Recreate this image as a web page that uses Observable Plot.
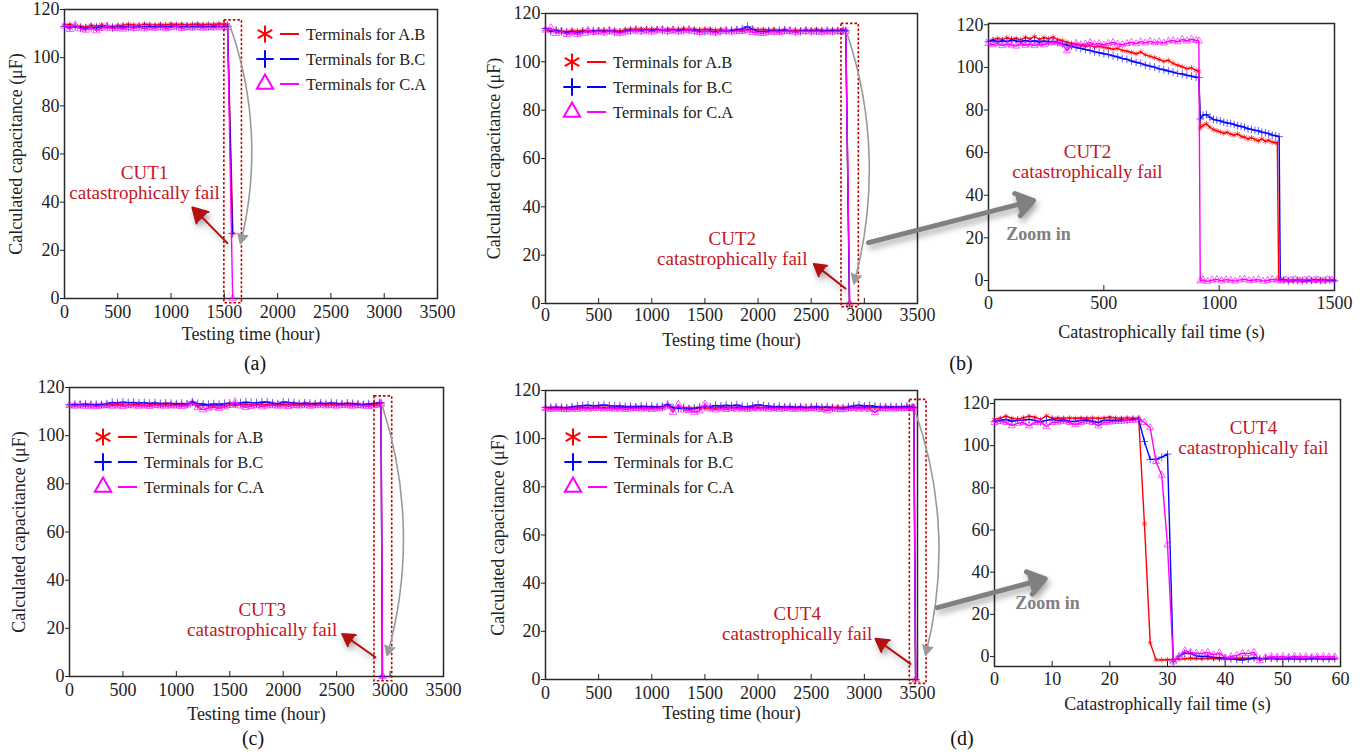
<!DOCTYPE html>
<html>
<head>
<meta charset="utf-8">
<script src="https://cdn.jsdelivr.net/npm/d3@7"></script>
<script src="https://cdn.jsdelivr.net/npm/@observablehq/plot@0.6"></script>
<style>
  body { margin: 0; background: #fff; }
  #fig { position: relative; width: 1366px; height: 756px; overflow: hidden; background: #fff;
         font-family: "Liberation Serif", "Times New Roman", serif; color: #222; }
  .panel { position: absolute; }
  .panel svg { overflow: visible; }
  .tag { position: absolute; font-size: 20px; transform: translate(-50%, -50%); color: #111; }
</style>
</head>
<body>
<div id="fig"></div>
<script>
// ---------------- DATA ----------------
const seriesKeys = ["AB", "BC", "CA"];
const legendLabels = ["Terminals for A.B", "Terminals for B.C", "Terminals for C.A"];
const panelTags = ["(a)", "(b)", "(c)", "(d)"];

// sampling grid of the long-term tests (hours)
const hoursGrid = [0,50,100,150,200,250,300,350,400,450,
  500,550,600,650,700,750,800,850,900,950,
  1000,1050,1100,1150,1200,1250,1300,1350,1400,1450,
  1500,1550,1600,1650,1700,1750,1800,1850,1900,1950,
  2000,2050,2100,2150,2200,2250,2300,2350,2400,2450,
  2500,2550,2600,2650,2700,2750,2800,2850,2900,2950,
  3000,3050,3100,3150,3200,3250,3300,3350,3400,3450];

// (a) CUT1
const aAB = [113.5,113.8,113.2,113.0,112.8,113.4,113.1,113.6,113.0,112.9,
  113.3,113.5,113.8,113.6,113.4,113.9,113.7,113.5,113.8,113.6,
  114.0,113.7,113.9,113.6,113.8,114.0,113.7,113.9,113.8,114.1,113.9];
const aBC = [113.0,112.6,112.8,112.4,112.3,112.6,112.4,112.8,112.7,112.5,
  112.6,112.9,112.7,112.6,112.8,112.9,113.0,112.8,113.0,112.9,
  113.1,113.0,112.8,113.0,112.9,113.1,113.0,112.9,113.1,113.0,112.9];
const aCA = [113.2,111.8,113.5,112.0,111.5,112.6,111.2,112.3,113.0,112.1,
  112.4,111.9,112.6,112.2,112.8,112.0,112.5,112.3,112.7,112.1,
  112.5,112.9,112.2,112.6,112.4,112.7,112.3,112.6,112.4,112.8,112.5];
const aTailHoursAB = [1530, 1580], aTailAB = [113.8, 27.0];
const aTailHoursBC = [1530, 1575], aTailBC = [113.0, 27.0];
const aTailHoursCA = [1530, 1578], aTailCA = [112.6, 0.0];

// (b) CUT2 long-term
const bAB = [113.5,112.8,113.2,112.6,112.5,112.9,112.7,113.0,112.8,112.6,
  112.9,113.1,112.8,113.0,112.7,113.3,113.5,113.4,113.6,113.3,
  113.5,113.4,113.2,113.5,113.3,113.4,113.6,113.3,113.5,113.2,
  113.4,113.5,113.1,113.3,113.0,112.9,113.2,113.0,113.3,113.5,
  113.2,113.4,113.1,113.3,113.0,113.2,112.8,113.1,112.9,113.2,
  113.0,113.3,113.1,112.9,113.2,113.0,113.1];
const bBC = [113.8,112.5,113.0,112.6,112.2,112.4,112.1,112.6,112.4,112.8,
  112.7,112.5,112.9,112.4,112.3,112.6,112.9,113.0,112.8,113.1,
  112.9,113.2,113.0,112.8,113.1,112.9,113.2,113.0,112.9,112.6,
  112.5,112.7,112.4,112.6,112.8,113.0,113.2,113.6,114.6,113.4,
  112.6,112.5,112.8,112.6,112.9,113.1,112.8,112.4,112.6,112.9,
  112.7,112.8,112.6,112.9,112.7,112.8,112.9];
const bCA = [113.2,114.0,111.8,112.6,111.4,112.2,111.3,111.9,113.0,112.2,
  112.6,112.1,112.8,112.3,111.9,112.4,112.7,113.2,112.5,113.0,
  112.4,112.9,113.3,112.6,113.1,112.5,112.9,113.2,112.6,112.2,
  112.7,112.4,112.1,112.6,112.9,112.4,112.8,112.6,113.0,112.2,
  112.0,111.8,112.3,112.5,112.2,112.6,112.8,112.3,112.5,112.7,
  112.4,112.6,112.3,112.5,112.4,112.6,112.5];
const bTailHoursAB = [2825, 2860], bTailAB = [113.0, 0.0];
const bTailHoursBC = [2825, 2860], bTailBC = [112.9, 0.0];
const bTailHoursCA = [2825, 2862], bTailCA = [112.6, 0.0];

// (c) CUT3
const cAB = [112.5,112.8,112.6,112.9,112.7,112.5,112.8,112.6,112.9,113.0,
  112.8,112.7,113.0,112.9,112.6,112.8,113.0,112.7,112.9,112.8,
  113.0,112.8,112.6,113.6,112.4,112.7,112.5,112.3,112.6,112.4,
  112.8,112.6,112.9,113.0,112.7,112.9,113.1,112.8,113.0,112.9,
  113.1,112.9,113.0,112.8,113.1,112.9,113.2,113.0,112.8,113.1,
  112.9,113.0,112.8,113.1,112.9,112.7,112.9,113.0,113.1];
const cBC = [112.8,113.0,112.9,113.1,112.8,113.0,112.9,113.2,113.8,113.6,
  113.9,113.7,113.8,113.5,113.7,113.4,113.6,113.3,113.5,113.4,
  113.2,113.4,113.0,114.0,113.3,113.1,112.9,113.2,113.0,113.3,
  113.5,113.2,113.6,113.9,113.7,113.6,113.9,114.0,113.5,113.2,
  114.0,113.8,113.6,113.3,113.5,113.4,113.2,113.5,113.3,113.6,
  113.4,113.2,113.5,113.3,113.1,112.9,113.2,113.4,113.6];
const cCA = [112.6,112.3,112.7,112.2,112.5,112.1,112.4,112.6,112.3,112.5,
  112.2,112.6,112.4,112.3,112.5,112.2,112.6,112.4,112.3,112.5,
  112.4,112.2,112.8,113.5,111.8,110.8,111.5,111.9,111.4,112.0,
  112.6,114.0,112.4,111.8,112.2,112.6,112.0,112.4,112.7,112.3,
  112.5,112.2,112.6,112.4,112.7,112.3,112.5,112.8,112.4,112.6,
  112.3,112.7,112.5,112.3,112.6,112.4,112.2,112.5,112.7];
const cTailHoursAB = [2915, 2928], cTailAB = [113.0, 0.0];
const cTailHoursBC = [2915, 2928], cTailBC = [113.6, 0.0];
const cTailHoursCA = [2915, 2930], cTailCA = [113.2, 0.0];

// (d) CUT4 long-term
const dAB = [112.5,112.8,112.6,112.4,112.7,112.5,112.8,113.0,112.8,112.9,
  113.1,112.9,113.0,112.8,112.9,113.0,112.8,113.1,112.9,112.7,
  112.9,113.0,112.8,113.8,112.6,112.9,112.5,112.8,112.6,112.9,
  112.7,112.6,112.8,113.0,112.9,112.8,113.0,112.7,112.9,113.1,
  113.0,112.8,113.1,112.9,113.0,112.8,113.1,112.9,113.0,112.8,
  112.9,113.1,112.8,113.0,112.9,113.1,113.0,112.8,113.0,112.9,
  113.1,112.9,113.0,112.8,113.1,113.0,112.9,113.1,113.0,113.2];
const dBC = [113.0,112.9,113.1,113.0,112.8,113.2,113.5,113.7,113.9,113.6,
  113.8,114.0,113.7,113.5,113.6,113.3,113.4,113.2,113.5,113.3,
  113.4,113.2,113.3,114.2,112.9,112.5,112.8,112.3,112.6,113.0,
  113.4,113.2,113.8,113.5,113.9,113.6,114.0,113.4,113.2,113.6,
  114.1,113.7,113.5,113.2,113.4,113.1,113.3,113.0,113.2,112.9,
  113.1,113.3,113.0,113.2,112.8,112.5,112.7,113.2,113.6,113.9,
  113.5,113.7,113.4,113.2,113.0,113.3,113.1,113.2,113.4,113.0];
const dCA = [112.6,112.2,112.5,112.3,112.1,112.4,112.2,112.6,112.3,112.5,
  112.7,112.4,112.6,112.3,112.5,112.2,112.4,112.6,112.3,112.5,
  112.2,112.4,112.9,113.6,111.0,114.2,112.0,111.8,111.0,111.6,
  114.3,112.4,112.0,112.5,112.2,112.6,112.3,112.5,112.2,112.6,
  112.4,112.7,112.3,112.5,112.2,112.6,112.4,112.2,112.5,112.3,
  112.6,112.4,112.2,111.6,112.5,112.3,112.1,112.4,112.6,112.3,
  112.5,112.2,110.9,112.4,112.6,112.3,112.5,112.4,112.6,112.5];
const dTailHoursAB = [3465, 3482], dTailAB = [113.0, 0.0];
const dTailHoursBC = [3465, 3482], dTailBC = [112.9, 0.0];
const dTailHoursCA = [3465, 3484], dTailCA = [112.6, 0.0];

// (b) zoom: CUT2 failure, seconds
const secondsB = [0,20,40,60,80,100,120,140,160,180,
  200,220,240,260,280,300,320,340,360,380,
  400,420,440,460,480,500,520,540,560,580,
  600,620,640,660,680,700,720,740,760,780,
  800,820,840,860,880,900];
const zbAB = [112.5,113.0,113.6,113.0,114.0,113.2,113.6,112.9,114.1,113.4,
  114.5,113.1,114.0,113.5,114.2,113.0,112.6,111.8,111.2,110.8,
  110.4,110.0,110.3,109.6,109.9,109.4,109.0,108.6,108.9,108.0,
  107.6,107.0,106.4,107.2,105.9,105.2,104.6,103.7,102.8,103.3,
  101.9,101.0,100.3,99.4,99.8,98.6];
const zbBC = [112.2,112.6,112.0,112.5,112.1,112.8,112.4,112.0,112.6,112.1,
  112.5,111.9,112.4,112.0,112.2,111.6,111.0,110.5,109.9,109.3,
  108.9,108.4,108.0,107.3,106.9,106.4,106.0,105.4,104.9,104.2,
  103.8,103.0,102.4,101.9,101.1,100.6,100.1,99.3,98.9,98.3,
  97.8,97.2,96.9,96.3,95.9,95.4];
const zbCA = [111.2,110.6,111.3,110.2,111.0,110.5,110.0,111.2,110.4,111.0,
  110.2,111.1,110.6,111.6,112.0,111.5,111.0,107.8,110.2,111.3,
  110.6,111.0,111.6,110.8,111.2,110.5,111.3,111.7,111.0,110.6,
  111.2,111.8,111.1,112.1,111.5,112.2,111.6,112.0,111.4,112.3,
  112.6,112.0,113.1,112.4,113.2,112.6];
const zbTailSecondsAB = [912,918,930,945,960,975,990,1005,1020,1035,1050,1065,1080,1095,1110,1125,1140,1155,1170,1185,1200,1215,1230,1245,1252,1258];
const zbTailAB = [98.2,71.6,72.8,73.6,71.9,70.8,70.3,69.7,69.1,69.5,68.7,68.2,68.8,67.6,67.3,66.4,67.0,66.2,65.5,66.5,65.3,65.8,64.9,64.7,64.5,0.4];
const zbTailSecondsBC = [912,918,930,945,960,975,990,1005,1020,1035,1050,1065,1080,1095,1110,1125,1140,1155,1170,1185,1200,1215,1230,1245,1260,1265];
const zbTailBC = [95.2,75.8,77.6,77.9,76.6,75.6,75.2,74.9,74.3,73.9,73.7,73.2,72.6,72.3,71.9,71.2,70.9,70.5,70.2,69.6,69.3,68.9,68.2,67.9,67.5,0.6];
const zbZeroSeconds = [1280,1300,1320,1340,1360,1380,1400,1420,1440,1460,1480,1500];
const zbZeroAB = [0.2,0.0,-0.3,0.3,0.1,-0.2,0.2,0.0,0.3,-0.1,0.1,0.2];
const zbZeroBC = [0.4,-0.2,0.3,0.1,-0.3,0.2,0.0,0.4,-0.1,0.2,0.3,-0.2];
const zbTailSecondsCA = [912,918,930,950,970,990,1010,1030,1050,1070,1090,1110,1130,1150,1170,1190,1210,1230,1250,1270,1290,1310,1330,1350,1370,1390,1410,1430,1450,1470,1490];
const zbTailCA = [112.4,-0.2,0.3,-0.4,0.2,0.5,-0.2,0.4,0.1,-0.3,0.3,0.6,-0.1,0.2,0.4,-0.3,0.1,0.5,0.2,-0.2,0.3,0.1,0.4,-0.1,0.2,0.5,0.0,0.3,-0.2,0.4,0.2];

// (d) zoom: CUT4 failure, seconds
const secondsD = [0,1,2,3,4,5,6,7,8,9,10,11,12,13,14,15,16,17,18,19,
  20,21,22,23,24,25,26,27,28,29,30,31,32,33,34,35,36,37,38,39,
  40,41,42,43,44,45,46,47,48,49,50,51,52,53,54,55,56,57,58,59];
const zdAB = [112.5,113.0,114.0,113.0,112.6,113.2,114.0,113.5,112.5,114.2,
  113.0,113.1,113.0,113.2,113.0,113.1,113.0,113.2,113.0,113.1,
  113.5,113.1,113.0,113.2,113.0,113.0,63.0,6.5,-1.5,-1.6,
  -1.5,-1.4,-1.2,-1.0,-0.8,-0.9,-1.0,-0.8,-0.9,-1.0,
  -0.8,-0.9,-1.0,-0.7,-0.9,-0.8,-1.0,-0.9,-0.8,-1.0,
  -0.9,-1.0,-0.8,-0.9,-1.0,-0.9,-0.8,-1.0,-0.9,-1.0];
const zdBC = [111.5,112.0,112.4,111.6,112.0,112.1,112.5,112.0,111.2,112.0,
  112.5,112.0,112.2,111.6,111.5,112.0,112.2,111.6,111.0,112.0,
  112.1,112.0,112.2,112.0,112.5,112.5,102.0,93.5,93.5,94.6,
  96.0,-2.5,0.2,1.6,1.5,0.4,0.0,0.2,-0.4,-0.5,
  -1.0,-1.1,-1.4,-1.6,-1.2,-0.6,-1.0,-1.1,-0.9,-1.0,
  -1.1,-0.9,-1.0,-1.2,-1.0,-0.9,-1.1,-1.0,-1.2,-1.0];
const zdCA = [111.0,111.5,111.0,109.5,110.6,111.0,109.4,111.0,111.2,109.0,
  111.0,111.2,111.6,111.0,110.0,111.0,111.5,111.0,109.4,111.0,
  111.2,111.5,111.6,112.0,112.0,112.5,111.0,108.5,92.5,86.0,
  53.0,-2.5,0.0,2.8,2.0,1.5,1.6,2.0,0.9,1.8,
  -0.6,0.0,0.6,1.6,1.4,2.0,-2.0,-0.4,0.0,-0.2,
  0.0,-0.3,0.1,-0.2,0.0,-0.3,-0.1,0.0,-0.2,-0.1];

// axis ticks
const hourTicks = [0,500,1000,1500,2000,2500,3000,3500];
const capTicks = [0,20,40,60,80,100,120];
const secTicksB = [0,500,1000,1500];
const secTicksD = [0,10,20,30,40,50,60];

// annotations (data coordinates)
const failWindowA = {x1: 1500, x2: 1665, y1: -2, y2: 115.5};
const failWindowB = {x1: 2785, x2: 2948, y1: -1.5, y2: 115.7};
const failWindowC = {x1: 2854, x2: 3020, y1: -2, y2: 116.3};
const failWindowD = {x1: 3428, x2: 3585, y1: -1.8, y2: 116.1};
const curveA = {x1: 1548, y1: 113.8, x2: 1651, y2: 22.8};
const curveB = {x1: 2838, y1: 111.6, x2: 2901, y2: 8.2};
const curveC = {x1: 2926, y1: 112.5, x2: 2973, y2: 8.7};
const curveD = {x1: 3481, y1: 111.0, x2: 3575, y2: 10.1};
const pointerA = {x1: 1529, y1: 23, x2: 1200, y2: 37.8};
const pointerB = {x1: 2823, y1: 6.2, x2: 2524, y2: 16.4};
const pointerC = {x1: 2863, y1: 8, x2: 2552, y2: 17.7};
const pointerD = {x1: 3434, y1: 6.5, x2: 3105, y2: 16.9};
const noteA = {x: 751, y: 48.2, text: "CUT1\ncatastrophically fail"};
const noteB = {x: 1757, y: 22.6, text: "CUT2\ncatastrophically fail"};
const noteC = {x: 1803, y: 23.8, text: "CUT3\ncatastrophically fail"};
const noteD = {x: 2368, y: 23.2, text: "CUT4\ncatastrophically fail"};
const noteZB = {x: 429, y: 55.8, text: "CUT2\ncatastrophically fail"};
const noteZD = {x: 44.9, y: 103.9, text: "CUT4\ncatastrophically fail"};
const zoomLabelB = {x: 217, y: 21.6, text: "Zoom in"};
const zoomLabelD = {x: 9.2, y: 25.1, text: "Zoom in"};
const zoomArrowB = {x1: -520, y1: 17.8, x2: 195, y2: 37.5};
const zoomArrowD = {x1: -9.9, y1: 23.2, x2: 8.8, y2: 36.9};

// ---------------- STYLE ----------------
const COLORS = {AB: "#ff0000", BC: "#0000ff", CA: "#ff00ff"};
const SYMBOLS = {AB: "asterisk", BC: "plus", CA: "triangle"};
const NOTE_RED = "#c3161e";
const fig = document.getElementById("fig");

function zipRows(times, values) { return values.map((v, i) => ({t: times[i], v})); }
function mainRows(values, tailT, tailV) { return zipRows(hoursGrid, values).concat(zipRows(tailT, tailV)); }

function seriesMarks(rows, key, r) {
  return [
    Plot.line(rows, {x: "t", y: "v", stroke: COLORS[key], strokeWidth: 1.4}),
    Plot.dot(rows, {x: "t", y: "v", symbol: SYMBOLS[key], stroke: COLORS[key], r, strokeWidth: 0.9, strokeOpacity: 0.7})
  ];
}

function axisMarks(c) {
  return [
    Plot.axisX({ticks: c.xTicks, tickSize: 5, dy: -5, tickFormat: () => "", label: null}),
    Plot.axisX({ticks: c.xTicks, tickSize: 0, tickPadding: c.xPad, tickFormat: d => String(d),
                label: c.xLabel, labelAnchor: "center", labelOffset: c.xLabelOffset, labelArrow: "none"}),
    Plot.axisY({ticks: capTicks, tickSize: 4, tickPadding: 1, tickFormat: d => String(d),
                label: c.yLabel ?? null, labelAnchor: "center", labelOffset: c.yLabelOffset, labelArrow: "none"})
  ];
}

function annotationMarks(win, curve, pointer, note) {
  return [
    Plot.rect([win], {x1: "x1", x2: "x2", y1: "y1", y2: "y2", fill: "none", stroke: "#c00000", strokeWidth: 1.6, strokeDasharray: "2.5,2"}),
    Plot.arrow([curve], {x1: "x1", y1: "y1", x2: "x2", y2: "y2", bend: 17, stroke: "#9a9a9a", strokeWidth: 1.6, headLength: 10, headAngle: 55, ariaDescription: "filled-arrow"}),
    Plot.arrow([pointer], {x1: "x1", y1: "y1", x2: "x2", y2: "y2", stroke: "#b31010", strokeWidth: 2, headLength: 16, headAngle: 60, ariaDescription: "filled-arrow shadow"}),
    Plot.text([note], {x: "x", y: "y", text: "text", fill: NOTE_RED, fontSize: 19, lineHeight: 1.05})
  ];
}

// turn the open arrow heads drawn by Plot into filled triangles
function fillArrowHeads(svg) {
  svg.querySelectorAll('g[aria-description*="filled"]').forEach(g => {
    const color = g.getAttribute("stroke") || "#888";
    g.querySelectorAll("path").forEach(p => {
      const n = (p.getAttribute("d").match(/-?\d*\.?\d+(?:e[-+]?\d+)?/gi) || []).map(Number);
      if (n.length < 6) return;
      const [ax, ay, tx, ty, bx, by] = n.slice(-6);
      const head = document.createElementNS("http://www.w3.org/2000/svg", "path");
      head.setAttribute("d", `M${ax},${ay}L${tx},${ty}L${bx},${by}Z`);
      head.setAttribute("fill", p.getAttribute("stroke") || color);
      head.setAttribute("stroke", "none");
      p.parentNode.appendChild(head);
    });
    if (g.getAttribute("aria-description").includes("shadow")) g.style.filter = "drop-shadow(2px 4px 3px rgba(0,0,0,0.35))";
  });
  svg.querySelectorAll("text").forEach(t => {
    if (t.textContent.includes("→") || t.textContent.includes("↑"))
      t.textContent = t.textContent.replace(/\s*[→↑]\s*/g, "");
  });
}

function place(c, marks) {
  const svg = Plot.plot({
    width: c.width, height: c.height,
    marginTop: c.mT, marginRight: c.mR, marginBottom: c.mB, marginLeft: c.mL,
    x: {domain: c.xDomain}, y: {domain: c.yDomain},
    style: {background: "transparent", overflow: "visible", fontFamily: "'Liberation Serif', 'Times New Roman', serif",
            fontSize: "18px", color: "#222"},
    marks: [Plot.frame({stroke: "#2a2a2a", strokeWidth: 1.5}), ...axisMarks(c), ...marks]
  });
  fillArrowHeads(svg);
  const div = document.createElement("div");
  div.className = "panel";
  div.style.left = c.left + "px";
  div.style.top = c.top + "px";
  div.appendChild(svg);
  fig.appendChild(div);
}

const yTitle = "Calculated capacitance (μF)";
const xTitle = "Testing time (hour)";
const xTitleZoom = "Catastrophically fail time (s)";

// (a)
place({left: 0, top: 0, width: 460, height: 350, mT: 9, mR: 23, mB: 52, mL: 64,
       xDomain: [0, 3500], yDomain: [0, 120], xTicks: hourTicks, xPad: 7,
       xLabel: xTitle, xLabelOffset: 41, yLabel: yTitle, yLabelOffset: 55},
  [...seriesMarks(mainRows(aAB, aTailHoursAB, aTailAB), "AB", 2.8),
   ...seriesMarks(mainRows(aBC, aTailHoursBC, aTailBC), "BC", 2.8),
   ...seriesMarks(mainRows(aCA, aTailHoursCA, aTailCA), "CA", 2.8),
   ...annotationMarks(failWindowA, curveA, pointerA, noteA)]);

// (b) left
place({left: 470, top: 0, width: 470, height: 355, mT: 13, mR: 23, mB: 52, mL: 75,
       xDomain: [0, 3500], yDomain: [0, 120], xTicks: hourTicks, xPad: 5,
       xLabel: xTitle, xLabelOffset: 42, yLabel: yTitle, yLabelOffset: 58},
  [...seriesMarks(mainRows(bAB, bTailHoursAB, bTailAB), "AB", 2.8),
   ...seriesMarks(mainRows(bBC, bTailHoursBC, bTailBC), "BC", 2.8),
   ...seriesMarks(mainRows(bCA, bTailHoursCA, bTailCA), "CA", 2.8),
   ...annotationMarks(failWindowB, curveB, pointerB, noteB)]);

// (b) right zoom
place({left: 940, top: 0, width: 426, height: 355, mT: 23, mR: 32, mB: 65, mL: 48,
       xDomain: [0, 1500], yDomain: [-4.7, 120.6], xTicks: secTicksB, xPad: 6,
       xLabel: xTitleZoom, xLabelOffset: 47},
  [...seriesMarks(zipRows(secondsB, zbAB).concat(zipRows(zbTailSecondsAB, zbTailAB), zipRows(zbZeroSeconds, zbZeroAB)), "AB", 2.6),
   ...seriesMarks(zipRows(secondsB, zbBC).concat(zipRows(zbTailSecondsBC, zbTailBC), zipRows(zbZeroSeconds, zbZeroBC)), "BC", 2.6),
   ...seriesMarks(zipRows(secondsB, zbCA).concat(zipRows(zbTailSecondsCA, zbTailCA)), "CA", 2.6),
   Plot.text([noteZB], {x: "x", y: "y", text: "text", fill: NOTE_RED, fontSize: 19, lineHeight: 1.05}),
   Plot.arrow([zoomArrowB], {x1: "x1", y1: "y1", x2: "x2", y2: "y2", stroke: "#808080", strokeWidth: 5, headLength: 6, headAngle: 70, ariaDescription: "filled-arrow shadow"}),
   Plot.text([zoomLabelB], {x: "x", y: "y", text: "text", fill: "#808080", fontSize: 18, fontWeight: "bold"})]);

// (c)
place({left: 0, top: 378, width: 460, height: 360, mT: 9, mR: 17, mB: 62, mL: 69,
       xDomain: [0, 3500], yDomain: [0, 120], xTicks: hourTicks, xPad: 7,
       xLabel: xTitle, xLabelOffset: 43, yLabel: yTitle, yLabelOffset: 57},
  [...seriesMarks(mainRows(cAB, cTailHoursAB, cTailAB), "AB", 2.8),
   ...seriesMarks(mainRows(cBC, cTailHoursBC, cTailBC), "BC", 2.8),
   ...seriesMarks(mainRows(cCA, cTailHoursCA, cTailCA), "CA", 2.8),
   ...annotationMarks(failWindowC, curveC, pointerC, noteC)]);

// (d) left
place({left: 470, top: 378, width: 470, height: 360, mT: 12, mR: 23, mB: 59, mL: 75,
       xDomain: [0, 3500], yDomain: [0, 120], xTicks: hourTicks, xPad: 7,
       xLabel: xTitle, xLabelOffset: 39, yLabel: yTitle, yLabelOffset: 54},
  [...seriesMarks(mainRows(dAB, dTailHoursAB, dTailAB), "AB", 2.8),
   ...seriesMarks(mainRows(dBC, dTailHoursBC, dTailBC), "BC", 2.8),
   ...seriesMarks(mainRows(dCA, dTailHoursCA, dTailCA), "CA", 2.8),
   ...annotationMarks(failWindowD, curveD, pointerD, noteD)]);

// (d) right zoom
place({left: 940, top: 378, width: 426, height: 360, mT: 21, mR: 26, mB: 72, mL: 54,
       xDomain: [0, 60], yDomain: [-4.7, 121.9], xTicks: secTicksD, xPad: 6,
       xLabel: xTitleZoom, xLabelOffset: 43},
  [...seriesMarks(zipRows(secondsD, zdAB), "AB", 2.6),
   ...seriesMarks(zipRows(secondsD, zdBC), "BC", 2.6),
   ...seriesMarks(zipRows(secondsD, zdCA), "CA", 2.6),
   Plot.text([noteZD], {x: "x", y: "y", text: "text", fill: NOTE_RED, fontSize: 19, lineHeight: 1.05}),
   Plot.arrow([zoomArrowD], {x1: "x1", y1: "y1", x2: "x2", y2: "y2", stroke: "#808080", strokeWidth: 5, headLength: 6, headAngle: 70, ariaDescription: "filled-arrow shadow"}),
   Plot.text([zoomLabelD], {x: "x", y: "y", text: "text", fill: "#808080", fontSize: 18, fontWeight: "bold"})]);

// ---------------- LEGENDS ----------------
const legendSymbol = {AB: [d3.symbolAsterisk, 200], BC: [d3.symbolPlus, 100], CA: [d3.symbolTriangle2, 190]};
function legend(x0, y0) {
  const svg = d3.create("svg").attr("width", 200).attr("height", 80)
    .style("position", "absolute").style("left", (x0 - 12) + "px").style("top", (y0 - 12) + "px").style("overflow", "visible");
  seriesKeys.forEach((k, i) => {
    const g = svg.append("g").attr("transform", `translate(12,${12 + i * 25})`);
    g.append("path").attr("d", d3.symbol(legendSymbol[k][0], legendSymbol[k][1])())
      .attr("fill", "none").attr("stroke", COLORS[k]).attr("stroke-width", 2);
    g.append("line").attr("x1", 15).attr("x2", 34).attr("stroke", COLORS[k]).attr("stroke-width", 2);
    g.append("text").attr("x", 41).attr("dy", "0.35em").attr("font-size", 16.5).attr("fill", "#222")
      .attr("font-family", "'Liberation Serif', 'Times New Roman', serif").text(legendLabels[i]);
  });
  fig.appendChild(svg.node());
}
legend(265, 34);
legend(572, 62);
legend(103, 437);
legend(573, 437);

// ---------------- PANEL TAGS ----------------
const tagPos = [[255, 363], [961, 363], [253, 738], [962, 738]];
panelTags.forEach((t, i) => {
  const d = document.createElement("div");
  d.className = "tag";
  d.style.left = tagPos[i][0] + "px";
  d.style.top = tagPos[i][1] + "px";
  d.textContent = t;
  fig.appendChild(d);
});
</script>
</body>
</html>
